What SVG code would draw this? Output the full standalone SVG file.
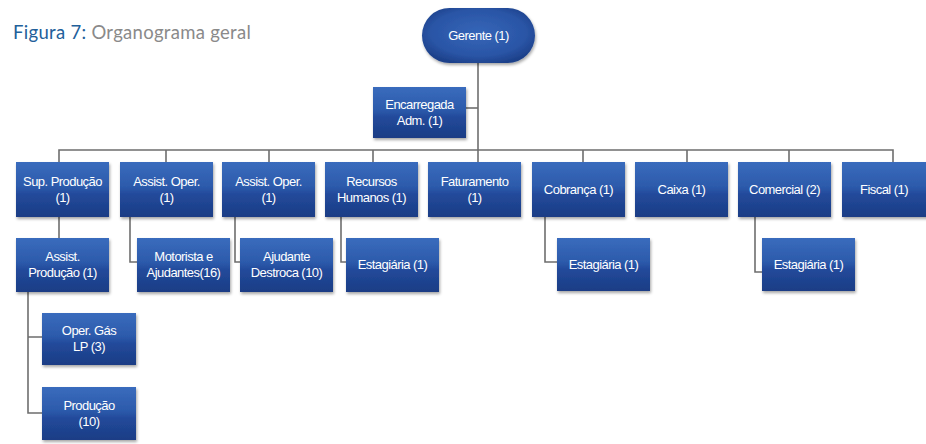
<svg xmlns="http://www.w3.org/2000/svg" width="926" height="444" viewBox="0 0 926 444">
<defs>
<linearGradient id="boxg" x1="0" y1="0" x2="0" y2="1">
<stop offset="0" stop-color="#3a6cbd"/>
<stop offset="0.45" stop-color="#2c5aab"/>
<stop offset="0.6" stop-color="#22499a"/>
<stop offset="1" stop-color="#1b3d85"/>
</linearGradient>
<radialGradient id="pillg" cx="0.5" cy="0.45" r="0.6">
<stop offset="0" stop-color="#3566b8"/>
<stop offset="0.7" stop-color="#2a55a6"/>
<stop offset="1" stop-color="#1c3f88"/>
</radialGradient>
<filter id="sh" x="-10%" y="-10%" width="125%" height="135%">
<feDropShadow dx="1" dy="2" stdDeviation="1.6" flood-color="#000" flood-opacity="0.35"/>
</filter>
</defs>
<style>
.box{fill:url(#boxg);filter:url(#sh);}
.pill{fill:url(#pillg);filter:url(#sh);}
.t{fill:#ffffff;font-family:"Liberation Sans","DejaVu Sans",sans-serif;font-size:13px;letter-spacing:-0.55px;text-anchor:middle;}
.c{fill:none;stroke:#6e6e6e;stroke-width:1.6;}
.ttl{font-family:Lato,"Open Sans",sans-serif;font-size:18.5px;letter-spacing:0.3px;}
</style>
<rect width="926" height="444" fill="#ffffff"/>
<text class="ttl" x="13" y="39"><tspan fill="#22609a">Figura 7:</tspan><tspan fill="#8a8a8a"> Organograma geral</tspan></text>

<g id="connectors">
<path class="c" d="M478 63 V162"/>
<path class="c" d="M466 108 H478"/>
<path class="c" d="M59 162 V150 H893 V162"/>
<path class="c" d="M166 150 V162 M269 150 V162 M373 150 V162 M583 150 V162 M687 150 V162 M789 150 V162"/>
<path class="c" d="M59 217 V238"/>
<path class="c" d="M130 217 V262 H137"/>
<path class="c" d="M235 217 V262 H240"/>
<path class="c" d="M341 217 V262 H346"/>
<path class="c" d="M545 217 V262 H557"/>
<path class="c" d="M755 217 V272 H762"/>
<path class="c" d="M28 292 V413 H42 M28 337 H42"/>
</g>

<g id="gerente"><rect class="pill" x="422" y="8" width="113" height="55" rx="27.5"/><text class="t" x="478.5" y="40">Gerente (1)</text></g>
<g id="encarregada"><rect class="box" x="373" y="87" width="93" height="51"/><text class="t" x="419.5" y="109">Encarregada</text><text class="t" x="419.5" y="125">Adm. (1)</text></g>

<g id="sup-producao"><rect class="box" x="16" y="162" width="93" height="55"/><text class="t" x="62.5" y="186">Sup. Produção</text><text class="t" x="62.5" y="202">(1)</text></g>
<g id="assist-oper-1"><rect class="box" x="120" y="162" width="93" height="55"/><text class="t" x="166.5" y="186">Assist. Oper.</text><text class="t" x="166.5" y="202">(1)</text></g>
<g id="assist-oper-2"><rect class="box" x="222" y="162" width="93" height="55"/><text class="t" x="268.5" y="186">Assist. Oper.</text><text class="t" x="268.5" y="202">(1)</text></g>
<g id="recursos-humanos"><rect class="box" x="325" y="162" width="93" height="55"/><text class="t" x="371.5" y="186">Recursos</text><text class="t" x="371.5" y="202">Humanos (1)</text></g>
<g id="faturamento"><rect class="box" x="428" y="162" width="93" height="55"/><text class="t" x="474.5" y="186">Faturamento</text><text class="t" x="474.5" y="202">(1)</text></g>
<g id="cobranca"><rect class="box" x="532" y="162" width="93" height="55"/><text class="t" x="578.5" y="194">Cobrança (1)</text></g>
<g id="caixa"><rect class="box" x="635" y="162" width="93" height="55"/><text class="t" x="681.5" y="194">Caixa (1)</text></g>
<g id="comercial"><rect class="box" x="738" y="162" width="93" height="55"/><text class="t" x="784.5" y="194">Comercial (2)</text></g>
<g id="fiscal"><rect class="box" x="842" y="162" width="93" height="55"/><text class="t" x="884" y="194">Fiscal (1)</text></g>

<g id="assist-producao"><rect class="box" x="16" y="238" width="93" height="54"/><text class="t" x="62.5" y="261">Assist.</text><text class="t" x="62.5" y="277">Produção (1)</text></g>
<g id="motorista"><rect class="box" x="137" y="238" width="93" height="54"/><text class="t" x="183.5" y="261">Motorista e</text><text class="t" x="183.5" y="277">Ajudantes(16)</text></g>
<g id="ajudante"><rect class="box" x="240" y="238" width="93" height="54"/><text class="t" x="286.5" y="261">Ajudante</text><text class="t" x="286.5" y="277">Destroca (10)</text></g>
<g id="estagiaria-rh"><rect class="box" x="346" y="238" width="93" height="54"/><text class="t" x="392.5" y="269">Estagiária (1)</text></g>
<g id="estagiaria-cob"><rect class="box" x="557" y="238" width="93" height="53"/><text class="t" x="603.5" y="269">Estagiária (1)</text></g>
<g id="estagiaria-com"><rect class="box" x="762" y="238" width="93" height="53"/><text class="t" x="808.5" y="269">Estagiária (1)</text></g>

<g id="oper-gas"><rect class="box" x="42" y="313" width="94" height="52"/><text class="t" x="89" y="335">Oper. Gás</text><text class="t" x="89" y="351">LP (3)</text></g>
<g id="producao"><rect class="box" x="42" y="387" width="94" height="53"/><text class="t" x="89" y="410">Produção</text><text class="t" x="89" y="426">(10)</text></g>
</svg>
